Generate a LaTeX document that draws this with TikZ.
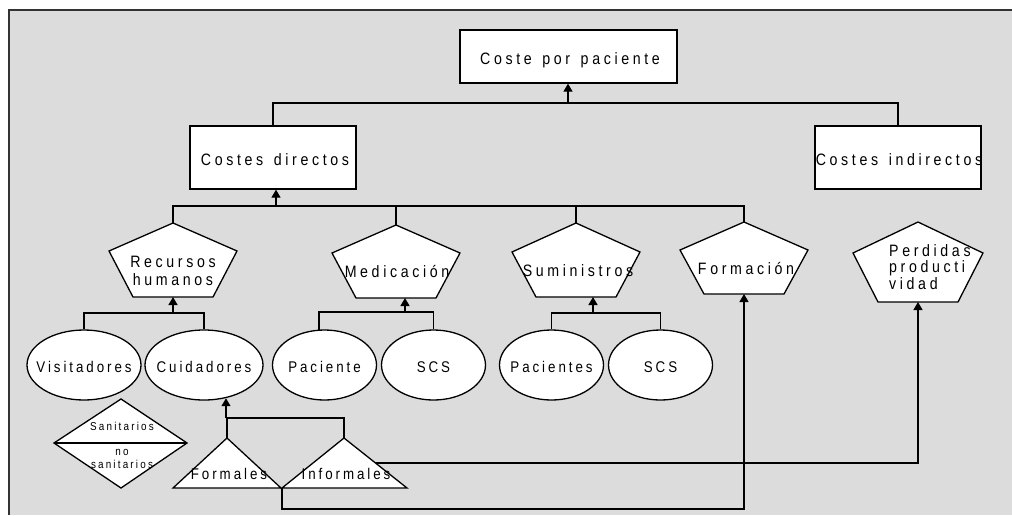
\documentclass[tikz,border=0pt]{standalone}
\usepackage{fontspec}
\setmainfont{Liberation Sans}
\newfontfamily\wideface{Liberation Sans}[FakeStretch=0.86, LetterSpace=22, WordSpace=1.4]
\newfontfamily\midface{Liberation Sans}[FakeStretch=0.86, LetterSpace=19, WordSpace=1.3]
\usetikzlibrary{shapes.geometric, arrows.meta, calc}
\definecolor{panel}{RGB}{220,220,220}

% pentagon: name, centre x, top y, shoulder y, bottom y, half width, half base
\newcommand\pentag[7]{%
  \draw[shp] (#2,#3) coordinate (#1-t) -- (#2+#6,#4) -- (#2+#7,#5)
    -- (#2-#7,#5) -- (#2-#6,#4) -- cycle;
  \coordinate (#1-b) at (#2,#5);
}

\begin{document}
\begin{tikzpicture}[x=1pt, y=-1pt,
  ln/.style={line width=1.3pt, black},
  arr/.style={ln, -{Triangle[length=8pt, width=9pt]}},
  shp/.style={line width=1.3pt, draw=black, fill=white},
  boxnode/.style={shp, rectangle, inner sep=0pt},
  ell/.style={shp, ellipse, inner sep=0pt, minimum width=#1, minimum height=70pt},
  ell/.default=104pt,
  big/.style={inner sep=0pt, font=\wideface\fontsize{16.5}{18}\selectfont},
  mid/.style={inner sep=0pt, font=\midface\fontsize{15.5}{18}\selectfont},
  tiny/.style={inner sep=0pt, font=\midface\fontsize{11.5}{13}\selectfont, align=center},
]
\useasboundingbox (0,0) rectangle (1012,515);
\fill[white] (0,0) rectangle (1012,515);
\fill[panel] (9,10) rectangle (1012,515);
\draw[line width=1.4pt, black!80] (9,515) -- (9,10) -- (1012,10);

% ---- boxes
\node[boxnode, minimum width=217pt, minimum height=53pt] (cpp) at (568.5,56.5) {};
\node[big] (cpptx) at (570,60) {Coste por paciente};
\node[boxnode, minimum width=166pt, minimum height=63pt] (cd) at (273,157.5) {};
\node[big] (cdtx) at (275,160) {Costes directos};
\node[boxnode, minimum width=166pt, minimum height=63pt] (ci) at (898,157.5) {};
\node[big] (citx) at (899,160) {Costes indirectos};

% ---- pentagons
\pentag{rh}{173}{223}{251}{297}{64}{40}
\pentag{med}{396}{225}{253}{298}{64}{40}
\pentag{sum}{576}{223}{252}{297}{64}{40}
\pentag{fm}{744}{222}{250}{294}{64}{40}
\pentag{pp}{918}{222}{253}{302}{65}{40}
\node[big, align=center] (rhtx) at (173,271) {Recursos\\humanos};
\node[big] (medtx) at (397,271) {Medicación};
\node[big] (sumtx) at (578,271) {Suministros};
\node[big] (fmtx) at (746,268) {Formación};
\node[big, align=left, anchor=west, font=\wideface\fontsize{16.5}{16.5}\selectfont] (pptx) at (889,267) {Perdidas\\producti\\vidad};

% ---- ellipses
\node[ell=114pt] (vis) at (84,365) {};
\node[ell=118pt] (cui) at (204,365) {};
\node[ell] (pac) at (324.5,365) {};
\node[ell] (scsa) at (433.5,365) {};
\node[ell] (pacs) at (551.5,365) {};
\node[ell] (scsb) at (660.5,365) {};
\node[mid] at ([yshift=-2pt]vis.center) {Visitadores};
\node[mid] at ([yshift=-2pt]cui.center) {Cuidadores};
\node[mid] at ([yshift=-2pt]pac.center) {Paciente};
\node[mid] at ([yshift=-2pt]scsa.center) {SCS};
\node[mid] at ([yshift=-2pt]pacs.center) {Pacientes};
\node[mid] at ([yshift=-2pt]scsb.center) {SCS};

% ---- diamond
\draw[shp] (121,399) -- (187,443) coordinate (dr) -- (121,488) -- (54,443) coordinate (dl) -- cycle;
\draw[ln] (dl) -- (dr);
\node[tiny] (sanit) at (122,426) {Sanitarios};
\node[tiny] (nosanit) at (122,459) {no\\sanitarios};

% ---- triangles
\draw[shp] (173,488) -- (227,438) coordinate (fo-t) -- (281,488) -- cycle;
\draw[shp] (282,488) coordinate (in-bl) -- (344,438) coordinate (in-t) -- (407,488) coordinate (in-br) -- cycle;
\coordinate (in-r) at ($(in-t)!0.5!(in-br)$);
\node[mid] (fotx) at (229,474) {Formales};
\node[mid] (intx) at (346,474) {Informales};

% ---- connectors
\coordinate (j0) at (568,103);
\draw[ln] (cd.north) |- (j0) -| (ci.north);
\draw[arr] (j0) -- (j0 |- cpp.south);

\coordinate (j1) at (276,206);
\draw[ln] (rh-t) |- (j1) -| (fm-t);
\draw[ln] (med-t) -- (med-t |- j1);
\draw[ln] (sum-t) -- (sum-t |- j1);
\draw[ln, yshift=-1.3pt] (j1) -- (j1 -| fm-t);
\draw[arr] (j1) -- (j1 |- cd.south);

\coordinate (j2) at (173,313);
\draw[ln] (vis.north) |- (j2) -| (cui.north);
\draw[arr] (j2) -- (rh-b);

\coordinate (j3) at (405,312);
\draw[ln] (pac.99) |- (j3) -| (scsa.north);
\draw[arr] (j3) -- (j3 |- med-b);

\coordinate (j4) at (593,313);
\draw[ln] (pacs.north) |- (j4) -| (scsb.north);
\draw[arr] (j4) -- (j4 |- sum-b);

\coordinate (j5) at (226,418);
\draw[ln] (fo-t) |- (j5) -| (in-t);
\draw[arr] (j5) -- (j5 |- cui.-57);

\draw[arr] (in-r) -| (pp-b);
\coordinate (j6) at (282,509);
\draw[arr] (in-bl) -- (j6) -| (fm-b);
\end{tikzpicture}
\end{document}
